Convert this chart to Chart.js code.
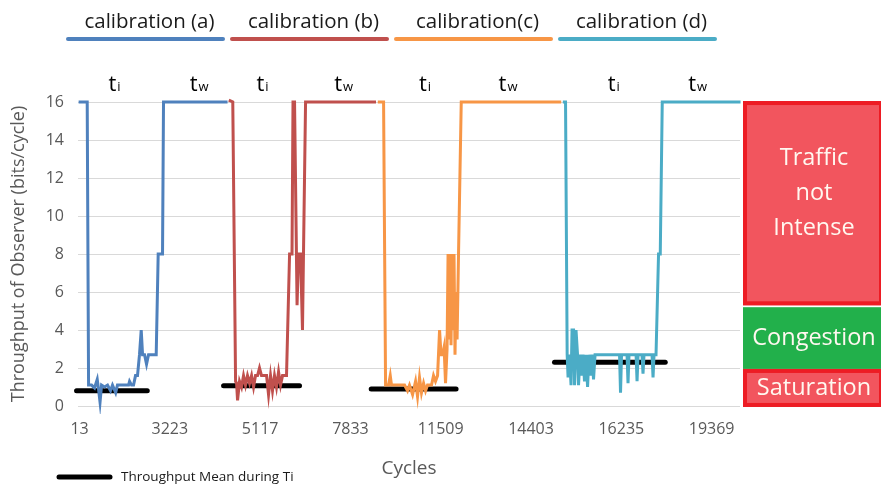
<!DOCTYPE html>
<html>
<head>
<meta charset="utf-8">
<script src="https://cdn.jsdelivr.net/npm/chart.js@4.4.1/dist/chart.umd.min.js"></script>
<style>
  html, body { margin: 0; padding: 0; background: #fff; }
  #wrap { width: 881px; height: 484px; position: relative; }
</style>
</head>
<body>
<div id="wrap"><canvas id="chart" width="881" height="484"></canvas></div>
<script>
// tick labels on the cycles axis (one every 10 position units)
const tickLabels = ["13", "3223", "5117", "7833", "11509", "14403", "16235", "19369"];

const seriesNames = ["calibration (a)", "calibration (b)", "calibration(c)", "calibration (d)"];
const seriesColors = ["#4F81BD", "#C0504D", "#F79646", "#4BACC6"];

// calibration (a)
const calAx = [-0.1, 0.85, 1.0, 1.33, 1.66, 1.96, 2.1, 2.27, 2.44, 2.77, 3.1, 3.43, 3.65, 4.0, 4.2, 4.65, 5.0, 5.43, 5.54, 5.76, 5.98, 6.2, 6.42, 6.64, 6.83, 6.98, 7.2, 7.42, 7.64, 8.49, 8.71, 9.19, 9.3, 16.39];
const calAy = [16, 16, 1.1, 1.1, 0.95, 1.4, 0.9, 0.2, 1.1, 1.0, 1.1, 0.8, 1.1, 0.7, 1.1, 1.1, 1.1, 1.1, 1.3, 1.1, 1.1, 1.6, 1.6, 2.7, 4.0, 2.7, 2.7, 2.2, 2.7, 2.7, 8, 8, 16, 16];

// calibration (b)
const calBx = [16.53, 16.97, 17.28, 17.39, 17.5, 17.72, 17.94, 18.16, 18.38, 18.6, 18.83, 19.05, 19.27, 19.49, 19.71, 19.93, 20.15, 20.49, 20.71, 20.93, 21.15, 21.37, 21.59, 21.81, 22.04, 22.26, 22.48, 22.92, 23.26, 23.53, 23.64, 23.81, 24.09, 24.25, 24.47, 24.69, 24.8, 25.03, 32.83];
const calBy = [16.1, 16, 1.3, 1.2, 0.3, 1.3, 1.0, 1.6, 1.1, 1.6, 1.2, 1.6, 1.0, 1.6, 1.6, 2.0, 1.6, 1.6, 1.6, 0.6, 1.6, 0.8, 1.6, 1.0, 1.8, 1.1, 1.6, 1.6, 8, 8, 16, 16, 5.3, 8, 8, 4.0, 8, 16, 16];

// calibration (c)
const calCx = [33.03, 33.67, 33.89, 34.22, 34.41, 34.55, 35.44, 35.99, 36.32, 36.54, 36.88, 37.21, 37.43, 37.65, 37.87, 38.1, 38.32, 38.54, 38.98, 39.2, 39.42, 39.65, 39.87, 40.03, 40.2, 40.37, 40.53, 40.7, 40.81, 40.92, 41.03, 41.14, 41.25, 41.36, 41.47, 41.58, 41.69, 41.81, 41.97, 42.27, 53.34];
const calCy = [16, 16, 1.1, 1.1, 1.6, 1.1, 1.1, 1.1, 0.8, 1.1, 0.6, 1.3, 0.5, 1.5, 0.7, 1.2, 0.8, 1.1, 1.1, 1.6, 1.3, 1.6, 4.0, 2.7, 2.7, 3.1, 1.2, 3.0, 8, 3.5, 8, 3.2, 8, 4.0, 8, 2.7, 6.0, 3.5, 8, 16, 16];

// calibration (d)
const calDx = [53.52, 53.82, 54.0, 54.1, 54.26, 54.43, 54.54, 54.71, 54.82, 54.98, 55.15, 55.26, 55.43, 55.59, 55.76, 55.92, 56.09, 56.26, 56.42, 56.59, 56.76, 56.92, 57.09, 57.59, 59.8, 59.91, 60.02, 60.63, 60.74, 60.85, 61.63, 61.74, 61.85, 62.29, 62.4, 62.51, 63.4, 63.51, 63.62, 63.84, 64.12, 64.31, 64.53, 73.2];
const calDy = [16, 16, 2.7, 1.5, 2.7, 1.1, 4.0, 4.0, 1.1, 4.0, 2.7, 1.1, 2.7, 1.6, 2.7, 1.3, 2.7, 1.0, 2.7, 1.6, 2.7, 1.4, 2.7, 2.7, 2.7, 0.7, 2.7, 2.7, 1.2, 2.7, 2.7, 1.3, 2.7, 2.7, 1.7, 2.7, 2.7, 1.5, 2.7, 2.7, 8, 8, 16, 16];

// throughput mean during Ti (value, from, to)
const meanValues = [0.8, 1.07, 0.9, 2.3];
const meanFrom = [-0.33, 15.95, 32.3, 52.6];
const meanTo = [7.5, 24.36, 41.7, 64.86];

// t_i / t_w markers along the cycles axis
const tiAt = [3.82, 20.2, 38.2, 59.1];
const twAt = [13.2, 29.2, 47.4, 68.4];

// regions on the right: label, top value, bottom value
const zoneLabels = [["Traffic", "not", "Intense"], ["Congestion"], ["Saturation"]];
const zoneTop = [16.05, 5.2, 1.95];
const zoneBottom = [5.3, 1.95, -0.05];
const zoneFill = ["#F2555E", "#22B04B", "#F2555E"];
const zoneBorder = ["#ED1C24", null, "#ED1C24"];

const font = "'Open Sans', 'Noto Sans', sans-serif";

function pts(xs, ys) {
    return xs.map((x, i) => ({ x: x, y: ys[i] }));
}

const seriesData = [pts(calAx, calAy), pts(calBx, calBy), pts(calCx, calCy), pts(calDx, calDy)];

const datasets = seriesData.map((d, i) => ({
    label: seriesNames[i],
    data: d,
    borderColor: seriesColors[i],
    borderWidth: 3,
    pointRadius: 0,
    tension: 0,
    fill: false,
    clip: 8,
}));

meanValues.forEach((m, i) => {
    datasets.push({
        label: "Throughput Mean during Ti",
        data: [{ x: meanFrom[i], y: m }, { x: meanTo[i], y: m }],
        borderColor: "#000",
        borderWidth: 5,
        borderCapStyle: "round",
        pointRadius: 0,
        fill: false,
        clip: 8,
    });
});

const overlay = {
    id: "overlay",
    afterDraw(chart) {
        const { ctx, chartArea: ca, scales } = chart;
        const x = scales.x, y = scales.y;
        ctx.save();

        // top legend: text above a coloured line
        seriesNames.forEach((name, i) => {
            const x0 = 68 + i * 164, x1 = x0 + 155;
            ctx.strokeStyle = seriesColors[i];
            ctx.lineWidth = 4;
            ctx.lineCap = "round";
            ctx.beginPath();
            ctx.moveTo(x0, 39);
            ctx.lineTo(x1, 39);
            ctx.stroke();
            ctx.fillStyle = "#1a1a1a";
            ctx.font = "20.5px " + font;
            ctx.textAlign = "center";
            ctx.textBaseline = "alphabetic";
            ctx.fillText(name, (x0 + x1) / 2 + 4, 28);
        });

        // t_i, t_w markers
        const tBase = y.getPixelForValue(16) - 11;
        function tMark(pos, sub) {
            const px = x.getPixelForValue(pos);
            ctx.font = "22px " + font;
            const tw = ctx.measureText("t").width;
            ctx.font = "13px " + font;
            const sw = ctx.measureText(sub).width;
            const left = px - (tw + sw) / 2;
            ctx.fillStyle = "#000";
            ctx.textAlign = "left";
            ctx.font = "22px " + font;
            ctx.fillText("t", left, tBase);
            ctx.font = "13px " + font;
            ctx.fillText(sub, left + tw + 1, tBase);
        }
        tiAt.forEach(p => tMark(p, "i"));
        twAt.forEach(p => tMark(p, "w"));

        // zones on the right
        const zx0 = ca.right + 3, zx1 = chart.width + 2;
        zoneLabels.forEach((lines, i) => {
            const top = y.getPixelForValue(zoneTop[i]);
            const bot = y.getPixelForValue(zoneBottom[i]);
            ctx.fillStyle = zoneFill[i];
            ctx.fillRect(zx0, top, zx1 - zx0, bot - top);
            if (zoneBorder[i]) {
                ctx.strokeStyle = zoneBorder[i];
                ctx.lineWidth = 4;
                ctx.strokeRect(zx0 + 2, top + 2, zx1 - zx0 - 4, bot - top - 4);
            }
            ctx.fillStyle = "#FFF8F0";
            ctx.font = "23.5px " + font;
            ctx.textAlign = "center";
            ctx.textBaseline = "middle";
            const cx = (zx0 + chart.width) / 2 + 2;
            const cy = (top + bot) / 2 - (lines.length > 1 ? 10 : 0);
            const lh = 35;
            lines.forEach((t, k) => {
                ctx.fillText(t, cx, cy + (k - (lines.length - 1) / 2) * lh);
            });
        });

        // bottom legend for the mean lines
        ctx.strokeStyle = "#000";
        ctx.lineWidth = 5;
        ctx.lineCap = "round";
        ctx.beginPath();
        ctx.moveTo(59, 477);
        ctx.lineTo(110, 477);
        ctx.stroke();
        ctx.fillStyle = "#1a1a1a";
        ctx.font = "13.5px " + font;
        ctx.textAlign = "left";
        ctx.textBaseline = "middle";
        ctx.fillText("Throughput Mean during Ti", 121, 477);

        ctx.restore();
    },
};

new Chart(document.getElementById("chart"), {
    type: "line",
    data: { datasets: datasets },
    options: {
        responsive: false,
        animation: false,
        events: [],
        layout: { padding: { top: 102, right: 141, left: 0, bottom: 0 } },
        scales: {
            x: {
                type: "linear",
                min: -0.17,
                max: 73.14,
                grid: { display: false, drawTicks: false },
                border: { display: false },
                afterBuildTicks: (s) => {
                    s.ticks = tickLabels.map((_, i) => ({ value: i * 10 }));
                },
                afterFit: (s) => { s.height = 78; },
                ticks: {
                    autoSkip: false,
                    maxRotation: 0,
                    padding: 14,
                    color: "#595959",
                    font: { family: font, size: 16 },
                    callback: (v) => tickLabels[Math.round(v / 10)],
                },
                title: {
                    display: true,
                    text: "Cycles",
                    color: "#595959",
                    font: { family: font, size: 19 },
                    padding: { top: 0, bottom: 4 },
                },
            },
            y: {
                min: 0,
                max: 16,
                grid: { color: "#D9D9D9", lineWidth: 1, drawTicks: false },
                border: { display: false },
                afterFit: (s) => { s.width = 78; },
                ticks: {
                    stepSize: 2,
                    padding: 14,
                    color: "#595959",
                    font: { family: font, size: 16 },
                },
                title: {
                    display: true,
                    text: "Throughput of Observer (bits/cycle)",
                    color: "#595959",
                    font: { family: font, size: 18 },
                    padding: { top: 8, bottom: 0 },
                },
            },
        },
        plugins: {
            legend: { display: false },
            tooltip: { enabled: false },
        },
    },
    plugins: [overlay],
});
</script>
</body>
</html>
